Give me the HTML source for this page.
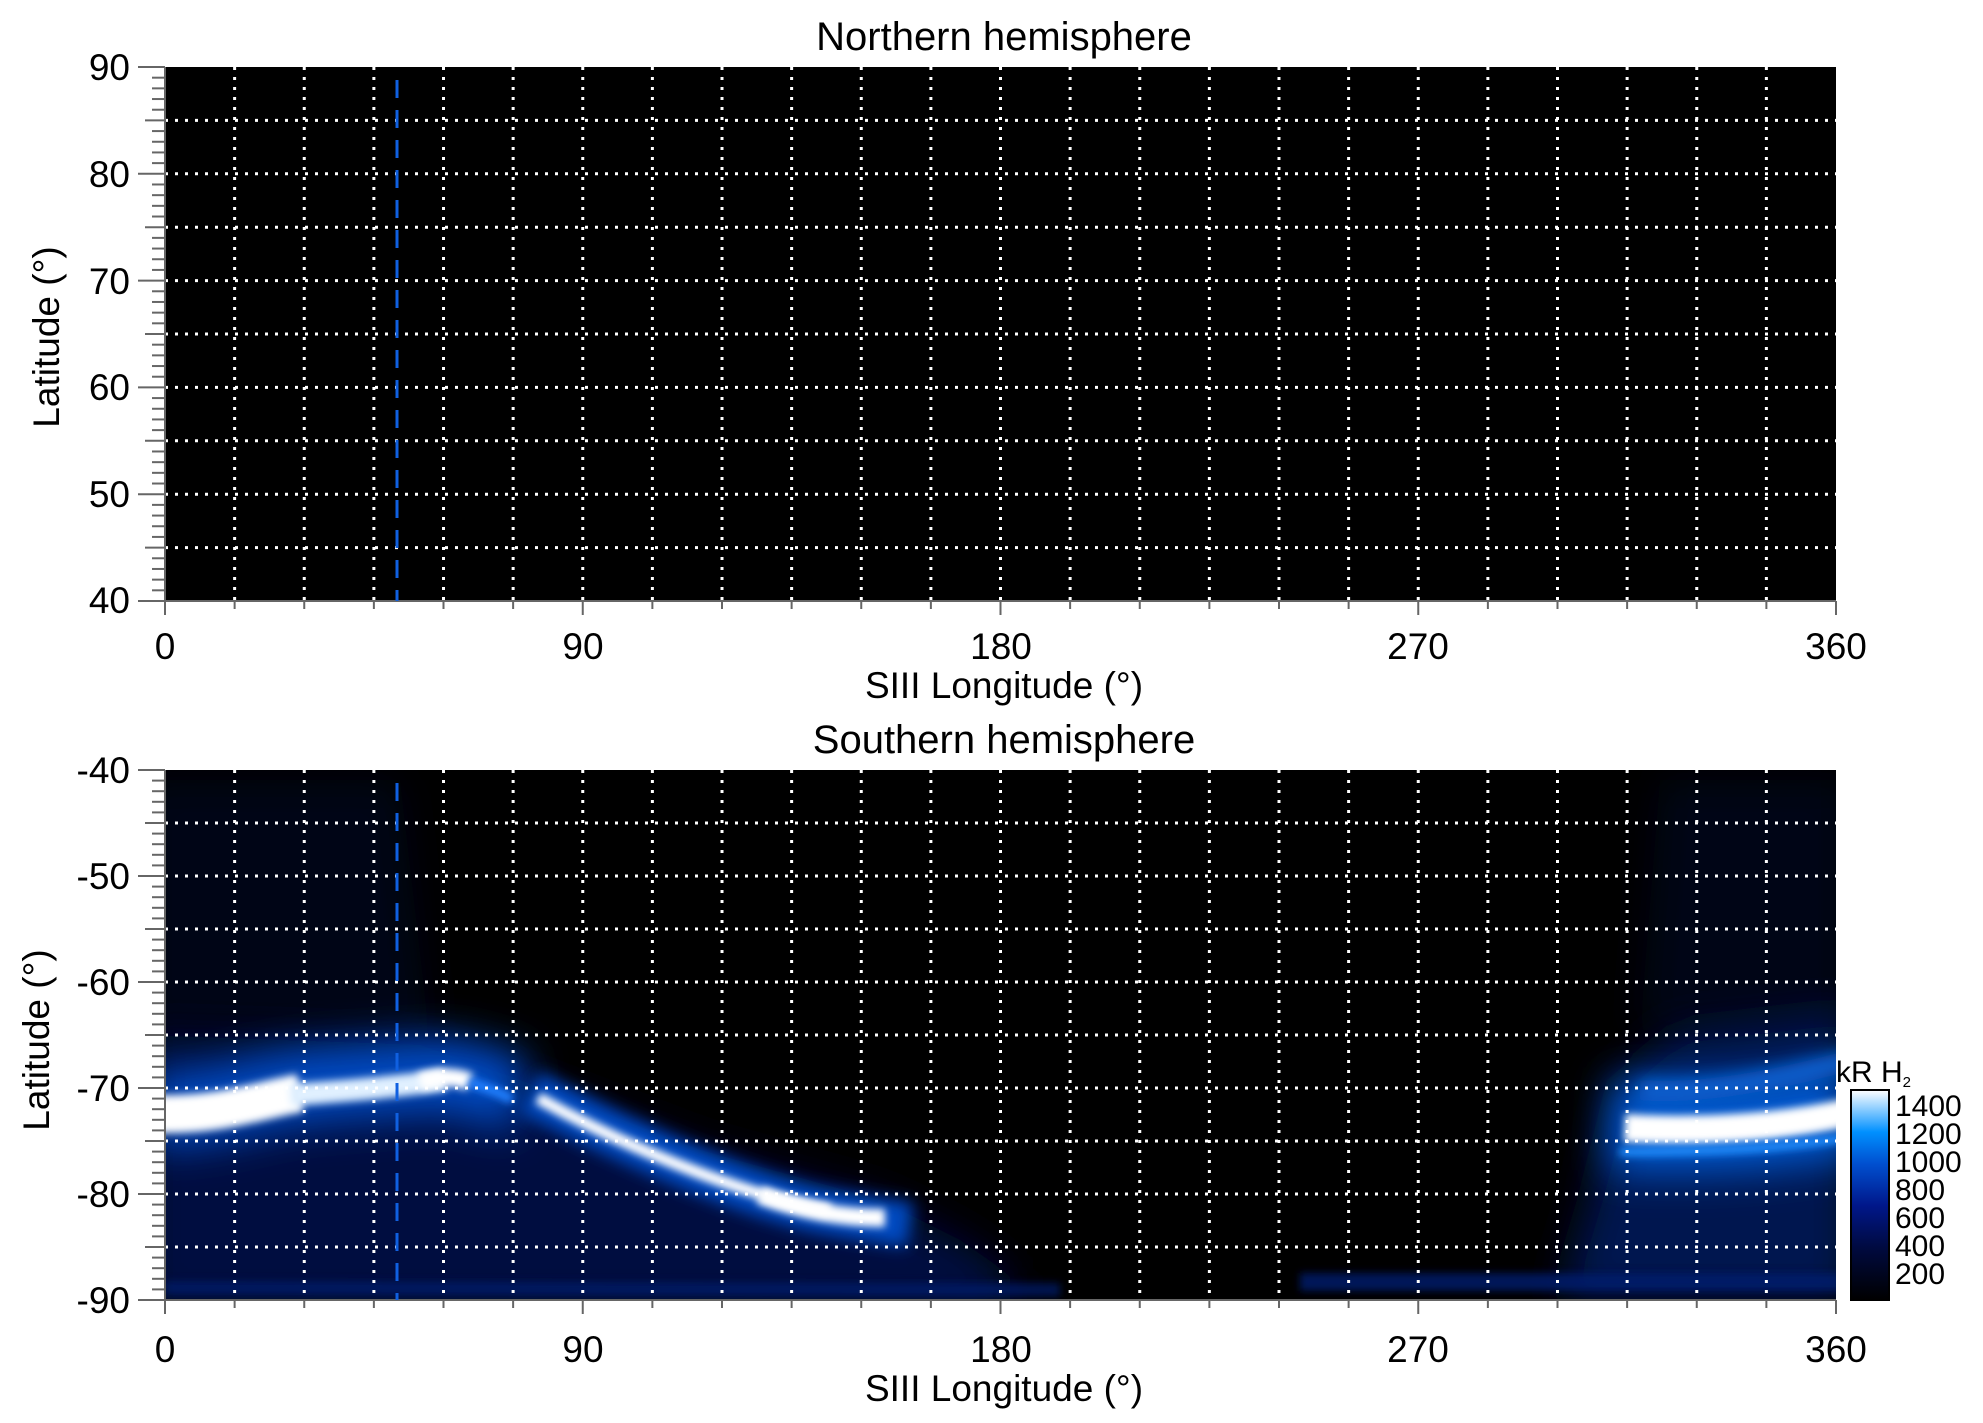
<!DOCTYPE html>
<html><head><meta charset="utf-8"><style>
html,body{margin:0;padding:0;background:#fff;}
svg{display:block;font-family:"Liberation Sans",Arial,sans-serif;}
</style></head><body>
<svg id="s" width="1983" height="1423" viewBox="0 0 1983 1423" xmlns="http://www.w3.org/2000/svg">
<defs>
<filter id="b8" filterUnits="userSpaceOnUse" x="0" y="700" width="1983" height="700"><feGaussianBlur stdDeviation="8"/></filter>
<filter id="b4" filterUnits="userSpaceOnUse" x="0" y="700" width="1983" height="700"><feGaussianBlur stdDeviation="4"/></filter>
<filter id="b20" filterUnits="userSpaceOnUse" x="0" y="700" width="1983" height="700"><feGaussianBlur stdDeviation="20"/></filter>
<clipPath id="cb"><rect x="165" y="770" width="1671" height="530"/></clipPath>
<linearGradient id="cg" x1="0" y1="1" x2="0" y2="0">
<stop offset="0" stop-color="#000000"/>
<stop offset="0.25" stop-color="#000a40"/>
<stop offset="0.45" stop-color="#00178a"/>
<stop offset="0.65" stop-color="#0050d0"/>
<stop offset="0.8" stop-color="#0090ff"/>
<stop offset="1" stop-color="#ffffff"/>
</linearGradient>
</defs>

<text x="1004" y="50" font-size="40" text-anchor="middle">Northern hemisphere</text>
<text x="1004" y="753" font-size="40" text-anchor="middle">Southern hemisphere</text>

<rect x="165" y="67" width="1671" height="534" fill="#000"/>
<rect x="165" y="770" width="1671" height="530" fill="#000"/>
<g clip-path="url(#cb)">
 <polygon points="140,780 400,780 430,1040 140,1040" fill="#000a30" opacity="0.45" filter="url(#b20)"/>
 <polygon points="1660,780 1850,780 1850,1030 1640,1030" fill="#000a30" opacity="0.45" filter="url(#b20)"/>
 <polygon points="140,1035 420,1045 520,1080 700,1150 880,1200 960,1240 1010,1275 1010,1310 140,1310" fill="#000f40" filter="url(#b20)"/>
 <polygon points="1560,1300 1590,1200 1620,1080 1680,1030 1850,1010 1850,1300" fill="#001450" filter="url(#b20)"/>
 <path d="M165,1288 L1060,1290" stroke="#001a70" stroke-width="14" opacity="0.7" fill="none" filter="url(#b4)"/>
 <path d="M1300,1282 L1840,1282" stroke="#001a70" stroke-width="18" opacity="0.8" fill="none" filter="url(#b4)"/>
 <path d="M150,1110 C220,1110 260,1090 310,1085 S400,1078 445,1075 C480,1080 500,1090 520,1095" stroke="#0048c0" stroke-width="75" fill="none" filter="url(#b20)"/>
 <path d="M530,1092 C640,1150 760,1200 830,1212 S890,1222 910,1225" stroke="#0048c0" stroke-width="45" fill="none" filter="url(#b8)"/>
 <path d="M1610,1125 C1700,1130 1780,1125 1850,1110" stroke="#0058d0" stroke-width="90" fill="none" filter="url(#b20)"/>
 <path d="M155,1114 C220,1116 260,1100 300,1093" stroke="#fff" stroke-width="38" fill="none" filter="url(#b4)"/>
 <path d="M290,1095 C360,1090 400,1086 445,1080" stroke="#e0f0ff" stroke-width="22" fill="none" filter="url(#b4)"/>
 <path d="M420,1082 C440,1076 455,1076 470,1082" stroke="#fff" stroke-width="18" fill="none" filter="url(#b4)"/>
 <path d="M470,1082 C485,1088 500,1092 512,1100" stroke="#2080ff" stroke-width="10" fill="none" filter="url(#b4)"/>
 <path d="M538,1098 C640,1155 760,1200 830,1210" stroke="#fff" stroke-width="12" fill="none" filter="url(#b4)"/>
 <path d="M760,1195 C800,1210 840,1218 885,1218" stroke="#fff" stroke-width="18" fill="none" filter="url(#b4)"/>
 <path d="M1625,1128 C1700,1132 1780,1128 1850,1112" stroke="#fff" stroke-width="28" fill="none" filter="url(#b4)"/>
 <path d="M1620,1152 C1700,1152 1780,1150 1850,1137" stroke="#2090ff" stroke-width="8" fill="none" filter="url(#b4)"/>
 <path d="M1640,1090 C1700,1095 1780,1080 1850,1060" stroke="#1060d0" stroke-width="20" fill="none" filter="url(#b8)"/>
</g>
<g id="grid"></g>
<g id="ticks" stroke="#666" stroke-width="2"></g>
<line x1="397" y1="80" x2="397" y2="601" stroke="#1060e0" stroke-width="3" stroke-dasharray="18 12"/>
<line x1="397" y1="783" x2="397" y2="1300" stroke="#1060e0" stroke-width="3" stroke-dasharray="18 12"/>

<g font-size="37" text-anchor="end">
<text x="130" y="80">90</text><text x="130" y="187">80</text><text x="130" y="294">70</text>
<text x="130" y="400">60</text><text x="130" y="507">50</text><text x="130" y="613">40</text>
<text x="130" y="783">-40</text><text x="130" y="889">-50</text><text x="130" y="995">-60</text>
<text x="130" y="1101">-70</text><text x="130" y="1207">-80</text><text x="130" y="1313">-90</text>
</g>
<g font-size="37" text-anchor="middle">
<text x="165" y="659">0</text><text x="583" y="659">90</text><text x="1001" y="659">180</text><text x="1418" y="659">270</text><text x="1836" y="659">360</text>
<text x="165" y="1362">0</text><text x="583" y="1362">90</text><text x="1001" y="1362">180</text><text x="1418" y="1362">270</text><text x="1836" y="1362">360</text>
<text x="1004" y="698">SIII Longitude (°)</text>
<text x="1004" y="1401">SIII Longitude (°)</text>
<text transform="translate(59,337) rotate(-90)">Latitude (°)</text>
<text transform="translate(49,1040) rotate(-90)">Latitude (°)</text>
</g>

<rect x="1851" y="1090" width="38" height="210" fill="url(#cg)" stroke="#000" stroke-width="2"/>
<text x="1836" y="1082" font-size="30">kR H<tspan font-size="15" dy="5">2</tspan></text>
<g font-size="30">
<text x="1895" y="1116">1400</text><text x="1895" y="1144">1200</text><text x="1895" y="1172">1000</text>
<text x="1895" y="1200">800</text><text x="1895" y="1228">600</text><text x="1895" y="1256">400</text><text x="1895" y="1284">200</text>
</g>

<script>
var ns="http://www.w3.org/2000/svg";
function L(g,x1,y1,x2,y2,attrs){var l=document.createElementNS(ns,"line");l.setAttribute("x1",x1);l.setAttribute("y1",y1);l.setAttribute("x2",x2);l.setAttribute("y2",y2);for(var k in attrs)l.setAttribute(k,attrs[k]);g.appendChild(l);}
var g=document.getElementById("grid"),t=document.getElementById("ticks");
var dot={stroke:"#fff","stroke-width":3,"stroke-dasharray":"3 7"};
var panels=[[67,601],[770,1300]];
panels.forEach(function(p){
 var top=p[0],bot=p[1],ppd=(bot-top)/50;
 for(var lon=15;lon<360;lon+=15){var x=165+lon*1671/360;L(g,x,top,x,bot,dot);}
 for(var d=5;d<50;d+=5){var y=top+d*ppd;L(g,165,y,1836,y,dot);}
 L(t,165,top,165,bot,{});L(t,165,bot,1836,bot,{});
 for(var d=0;d<=50;d++){var y=top+d*ppd;var len=(d%10==0)?27:(d%5==0?20:13);L(t,165-len,y,165,y,{});}
 for(var lon=0;lon<=360;lon+=15){var x=165+lon*1671/360;L(t,x,bot,x,bot+(lon%90==0?14:8),{});}
});
</script>
</svg>
</body></html>
